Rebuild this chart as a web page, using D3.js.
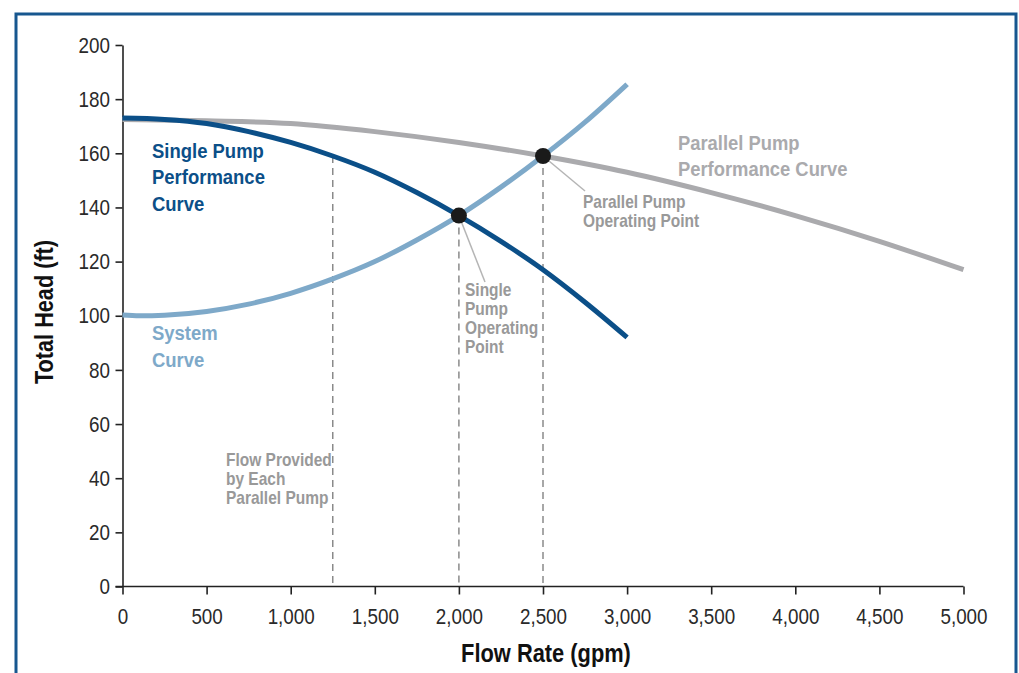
<!DOCTYPE html>
<html><head><meta charset="utf-8">
<script src="https://cdn.jsdelivr.net/npm/d3@7/dist/d3.min.js"></script>
<style>
body{margin:0;background:#fff;}
text{font-family:"Liberation Sans",Arial,sans-serif;}
</style></head>
<body><svg id="c" width="1019" height="673"></svg>
<script>
const xTicks=[0,500,1000,1500,2000,2500,3000,3500,4000,4500,5000];
const yTicks=[0,20,40,60,80,100,120,140,160,180,200];
const singleFlow=[0,250,500,750,1000,1250,1500,1750,2000,2250,2500,2750,3000];
const singleHead=[173,172.5,171,168,164,159,153,145.5,137,127.5,117,105,92];
const parallelFlow=[0,500,1000,1500,2000,2500,3000,3500,4000,4500,5000];
const parallelHead=[172.5,172,171,168,164,159,153,145.5,137,127.5,117];
const systemFlow=[0,100,250,500,750,1000,1250,1500,1750,2000,2250,2500,2750,3000];
const systemHead=[100.3,100,100.2,101.6,104.3,108.3,113.6,120,128,137,147.5,159,171.5,185.5];
const opFlow=[2000,2500];
const opHead=[137,159];
const guideFlow=[1250,2000,2500];
const guideHead=[159,137,159];

const svg=d3.select("#c");
svg.append("path").attr("d","M16,673 V14 H1016 V673").attr("fill","none").attr("stroke","#17578f").attr("stroke-width",3);

const x=d3.scaleLinear().domain([0,5000]).range([122.5,963.5]);
const y=d3.scaleLinear().domain([0,200]).range([586.5,45]);
const SX=0.845;

const xa=svg.append("g").attr("transform","translate(0,586.5)")
 .call(d3.axisBottom(x).tickValues(xTicks).tickSize(8).tickPadding(13.7).tickFormat(d3.format(",")).tickSizeOuter(0));
const ya=svg.append("g").attr("transform","translate(122.5,0)")
 .call(d3.axisLeft(y).tickValues(yTicks).tickSize(7).tickPadding(5.5).tickSizeOuter(0));
[xa,ya].forEach(g=>{
 g.select(".domain").attr("stroke","#222").attr("stroke-width",1.6);
 g.selectAll(".tick line").attr("stroke","#222").attr("stroke-width",1.6);
 g.selectAll(".tick text").attr("fill","#2a2a2a").style("font-family","'Liberation Sans',Arial,sans-serif").style("font-size","22.3px")
  .attr("transform",`scale(${SX},1)`);
});
ya.selectAll(".tick text").attr("x",-12.5/SX);
xa.select(".domain").attr("d","M115.5,0H963.5");

const gd=svg.append("g");
guideFlow.forEach((f,i)=>{
 gd.append("line").attr("x1",x(f)).attr("x2",x(f)).attr("y1",y(guideHead[i])).attr("y2",y(0))
  .attr("stroke","#8a8a8a").attr("stroke-width",1.5).attr("stroke-dasharray","7,5");
});

const line=d3.line().curve(d3.curveMonotoneX);
function curve(fx,hy,col,w){
 svg.append("path").attr("d",line(fx.map((f,i)=>[x(f),y(hy[i])])))
  .attr("fill","none").attr("stroke",col).attr("stroke-width",w);
}
curve(parallelFlow,parallelHead,"#aaaaad",5);
curve(systemFlow,systemHead,"#7ea9c9",5);
curve(singleFlow,singleHead,"#0b4f88",5);

svg.append("line").attr("x1",x(2000)).attr("y1",y(137)).attr("x2",485).attr("y2",282).attr("stroke","#b5b5b5").attr("stroke-width",1.5);
svg.append("line").attr("x1",x(2500)).attr("y1",y(159)).attr("x2",585).attr("y2",191).attr("stroke","#b5b5b5").attr("stroke-width",1.5);

svg.selectAll("circle.op").data(opFlow).enter().append("circle")
 .attr("cx",d=>x(d)).attr("cy",(d,i)=>y(opHead[i])).attr("r",8).attr("fill","#1a1a1a");

function label(lines,x0,y0,lh,size,col,sx){
 const t=svg.append("text").attr("transform",`translate(${x0},${y0}) scale(${sx},1)`).attr("fill",col)
  .style("font-size",size+"px").style("font-weight","bold");
 lines.forEach((s,i)=>t.append("tspan").attr("x",0).attr("y",i*lh).text(s));
}
label(["Single Pump","Performance","Curve"],152,158,26.5,21,"#0b4f88",0.88);
label(["System","Curve"],152,340,27,21,"#7ea9c9",0.88);
label(["Parallel Pump","Performance Curve"],678,150,26,21,"#aaaaad",0.875);
label(["Parallel Pump","Operating Point"],583,208,18.9,17.5,"#999",0.885);
label(["Single","Pump","Operating","Point"],465,296,19,17.5,"#999",0.885);
label(["Flow Provided","by Each","Parallel Pump"],226,466,18.9,17.5,"#999",0.885);

svg.append("text").attr("transform","translate(546,662) scale(0.84,1)").attr("text-anchor","middle").attr("fill","#111")
 .style("font-size","26px").style("font-weight","bold").text("Flow Rate (gpm)");
svg.append("text").attr("transform","translate(53,312) rotate(-90) scale(0.868,1)").attr("text-anchor","middle").attr("fill","#111")
 .style("font-size","25px").style("font-weight","bold").text("Total Head (ft)");
</script></body></html>
